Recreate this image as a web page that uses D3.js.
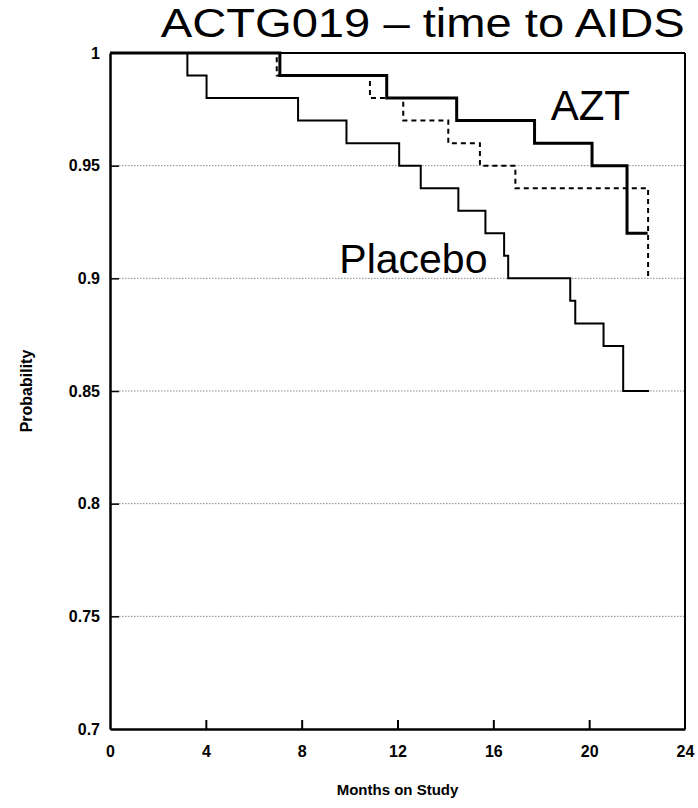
<!DOCTYPE html>
<html>
<head>
<meta charset="utf-8">
<script src="https://cdn.jsdelivr.net/npm/d3@7/dist/d3.min.js"></script>
<style>
  html, body { margin: 0; padding: 0; background: #fff; }
  svg { display: block; }
</style>
</head>
<body>
<script>
// ---- Data (Kaplan–Meier step curves) ----
const placeboTimes = [0, 3.23, 4.03, 7.85, 9.87, 12.07, 12.97, 14.54, 15.67, 16.45, 16.62, 19.21, 19.42, 20.6, 21.42, 22.5];
const placeboSurv  = [1, 0.99, 0.98, 0.97, 0.96, 0.95, 0.94, 0.93, 0.92, 0.91, 0.90, 0.89, 0.88, 0.87, 0.85, 0.85];

const aztTimes = [0, 7.09, 11.55, 14.47, 17.72, 20.12, 21.58, 22.44];
const aztSurv  = [1, 0.99, 0.98, 0.97, 0.96, 0.95, 0.92, 0.92];

const aztHighTimes = [0, 6.96, 10.85, 12.24, 14.12, 15.44, 16.92, 22.46];
const aztHighSurv  = [1, 0.99, 0.98, 0.97, 0.96, 0.95, 0.94, 0.90];

const xTickValues = [0, 4, 8, 12, 16, 20, 24];
const xTickLabels = ["0", "4", "8", "12", "16", "20", "24"];
const yTickValues = [0.7, 0.75, 0.8, 0.85, 0.9, 0.95, 1];
const yTickLabels = ["0.7", "0.75", "0.8", "0.85", "0.9", "0.95", "1"];
const gridValues  = [0.75, 0.8, 0.85, 0.9, 0.95];

const titleText = "ACTG019 \u2013 time to AIDS";
const xLabel = "Months on Study";
const yLabel = "Probability";

// ---- Layout ----
const W = 698, H = 808;
const margin = { left: 110, right: 13, top: 53, bottom: 79 };

const svg = d3.select("body").append("svg").attr("width", W).attr("height", H);

const x = d3.scaleLinear().domain([0, 24]).range([margin.left, W - margin.right]);
const y = d3.scaleLinear().domain([0.7, 1]).range([H - margin.bottom, margin.top]);

const font = "'Liberation Sans', Arial, Helvetica, sans-serif";

// gridlines
svg.append("g").selectAll("line").data(gridValues).join("line")
  .attr("x1", x(0)).attr("x2", x(24))
  .attr("y1", d => y(d)).attr("y2", d => y(d))
  .attr("stroke", "#8a8a8a").attr("stroke-width", 1)
  .attr("stroke-dasharray", "1.5,1.5");

// frame top / right
svg.append("line").attr("x1", x(0)).attr("x2", x(24)).attr("y1", y(1)).attr("y2", y(1))
  .attr("stroke", "#000").attr("stroke-width", 2);
svg.append("line").attr("x1", x(24)).attr("x2", x(24)).attr("y1", y(1)).attr("y2", y(0.7))
  .attr("stroke", "#000").attr("stroke-width", 2);

// axes
const xAxis = d3.axisBottom(x).tickValues(xTickValues)
  .tickFormat((d, i) => xTickLabels[i]).tickSizeInner(-9).tickSizeOuter(0).tickPadding(17);
const gx = svg.append("g").attr("transform", `translate(0,${y(0.7)})`).call(xAxis);
gx.select(".domain").attr("stroke-width", 2.5);
gx.selectAll(".tick line").attr("stroke-width", 2)
  .filter(d => d === 0 || d === 24).remove();
gx.selectAll("text").attr("font-family", font).attr("font-weight", "bold").attr("font-size", 16).attr("fill", "#000");

const yAxis = d3.axisLeft(y).tickValues(yTickValues)
  .tickFormat((d, i) => yTickLabels[i]).tickSizeInner(-9).tickSizeOuter(0).tickPadding(10);
const gy = svg.append("g").attr("transform", `translate(${x(0)},0)`).call(yAxis);
gy.select(".domain").attr("stroke-width", 2.5);
gy.selectAll(".tick line").attr("stroke-width", 1.5)
  .filter(d => d === 0.7 || d === 1).remove();
gy.selectAll("text").attr("font-family", font).attr("font-weight", "bold").attr("font-size", 16).attr("fill", "#000");

// curves
const line = d3.line().x(d => x(d[0])).y(d => y(d[1])).curve(d3.curveStepAfter);
const zip = (t, s) => t.map((v, i) => [v, s[i]]);

svg.append("path").datum(zip(aztHighTimes, aztHighSurv)).attr("d", line)
  .attr("fill", "none").attr("stroke", "#000").attr("stroke-width", 2)
  .attr("stroke-dasharray", "5,4");
svg.append("path").datum(zip(placeboTimes, placeboSurv)).attr("d", line)
  .attr("fill", "none").attr("stroke", "#000").attr("stroke-width", 2);
svg.append("path").datum(zip(aztTimes, aztSurv)).attr("d", line)
  .attr("fill", "none").attr("stroke", "#000").attr("stroke-width", 3);

// text
svg.append("text").attr("x", 160.7).attr("y", 37)
  .attr("font-family", font).attr("font-size", 40)
  .attr("textLength", 524).attr("lengthAdjust", "spacingAndGlyphs")
  .text(titleText);

svg.append("text").attr("x", 550.7).attr("y", 120)
  .attr("font-family", font).attr("font-size", 42).text("AZT");
svg.append("text").attr("x", 339.3).attr("y", 273.3)
  .attr("font-family", font).attr("font-size", 41).text("Placebo");

svg.append("text").attr("x", (x(0) + x(24)) / 2).attr("y", 795)
  .attr("text-anchor", "middle").attr("font-family", font).attr("font-weight", "bold")
  .attr("font-size", 15).text(xLabel);

svg.append("text")
  .attr("transform", `translate(32,${(y(0.7) + y(1)) / 2}) rotate(-90)`)
  .attr("text-anchor", "middle").attr("font-family", font).attr("font-weight", "bold")
  .attr("font-size", 16).text(yLabel);
</script>
</body>
</html>
